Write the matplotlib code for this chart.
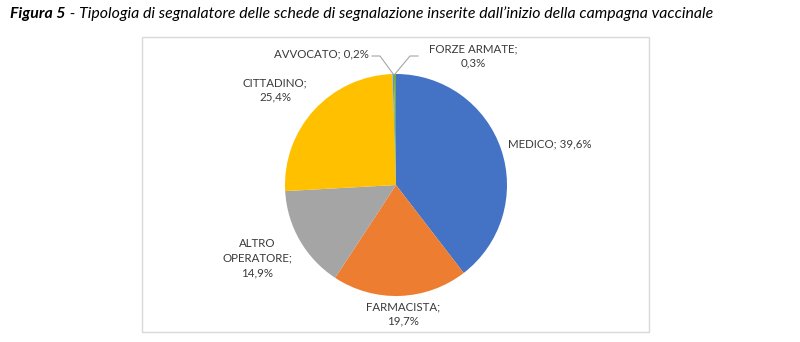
import numpy as np
import matplotlib.pyplot as plt
from matplotlib.patches import Rectangle

# Tipologia di segnalatore (percentuali)
categories = ['MEDICO', 'FARMACISTA', 'ALTRO OPERATORE', 'CITTADINO', 'AVVOCATO', 'FORZE ARMATE']
values = [39.6, 19.7, 14.9, 25.4, 0.2, 0.3]
colors = ['#4472C4', '#ED7D31', '#A5A5A5', '#FFC000', '#5B9BD5', '#70AD47']

TITLE_BOLD = 'Figura 5'
TITLE_REST = ' - Tipologia di segnalatore delle schede di segnalazione inserite dall\u2019inizio della campagna vaccinale'

W, H = 800, 342
FONT = 'Lato'
TXT = '#3A3A3A'
FS = 8.3


def pct(v):
    return f'{v:.1f}%'.replace('.', ',')


fig = plt.figure(figsize=(W / 100, H / 100), dpi=100)
ax = fig.add_axes([0, 0, 1, 1])

# chart frame
ax.add_patch(Rectangle((142, 37), 507, 295, fill=False, ec='#D9D9D9', lw=1))

cx, cy, r = 396, 185, 111
# y axis is inverted below, so counterclock=True draws clockwise on screen
wedges, _ = ax.pie(values, colors=colors, startangle=-90, counterclock=True,
                   center=(cx, cy), radius=r, frame=True,
                   wedgeprops=dict(linewidth=0))
ax.set_xlim(0, W)
ax.set_ylim(H, 0)   # pixel-like coordinates, y going down
ax.set_aspect('equal')
ax.axis('off')

# label positions (centre of text block)
label_pos = {
    'MEDICO': (550, 144),
    'FARMACISTA': (403, 314),
    'ALTRO OPERATORE': (257, 258),
    'CITTADINO': (275, 90),
}
for name, v in zip(categories, values):
    if name in label_pos:
        x, y = label_pos[name]
        if name == 'MEDICO':
            s = f'{name}; {pct(v)}'
        elif name == 'ALTRO OPERATORE':
            s = f'ALTRO\nOPERATORE;\n{pct(v)}'
        else:
            s = f'{name};\n{pct(v)}'
        ax.text(x, y, s, ha='center', va='center', fontsize=FS, family=FONT,
                color=TXT, linespacing=1.4)

# small slices with leader lines
for w, name, v in zip(wedges, categories, values):
    if name not in ('AVVOCATO', 'FORZE ARMATE'):
        continue
    ang = np.deg2rad((w.theta1 + w.theta2) / 2)
    ex, ey = cx + r * np.cos(ang), cy + r * np.sin(ang)
    if name == 'AVVOCATO':
        ax.plot([ex, 380, 372], [ey, 56, 56], color='#A6A6A6', lw=0.8)
        ax.text(369, 54, f'{name}; {pct(v)}', ha='right', va='center',
                fontsize=FS, family=FONT, color=TXT)
    else:
        ax.plot([ex, 410, 418], [ey, 56, 56], color='#A6A6A6', lw=0.8)
        ax.text(473, 56, f'{name};\n{pct(v)}', ha='center', va='center',
                fontsize=FS, family=FONT, color=TXT, linespacing=1.4)

t1 = ax.text(10, 14, TITLE_BOLD, ha='left', va='center', fontsize=11.4,
             family=FONT, weight='bold', style='italic', color='black')
ax.annotate(TITLE_REST, xy=(1, 0), xycoords=t1, va='bottom', ha='left',
            fontsize=11.4, family=FONT, style='italic', color='black')

fig.savefig('out.png', dpi=100)
